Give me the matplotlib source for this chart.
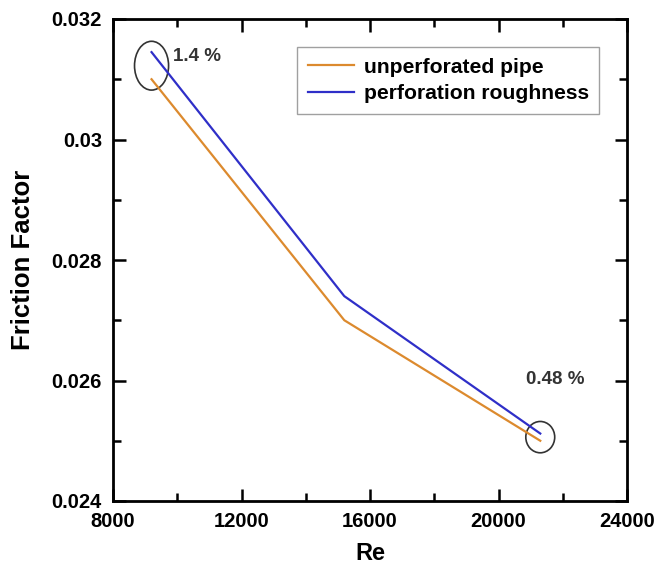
import matplotlib
matplotlib.use("Agg")
import matplotlib.pyplot as plt
from matplotlib.patches import Ellipse
from matplotlib.ticker import MultipleLocator, FuncFormatter

# data
re_vals = [9200, 15200, 21300]
f_unperf = [0.0310, 0.0270, 0.0250]
f_perf = [0.03145, 0.02740, 0.02512]
series_labels = ["unperforated pipe", "perforation roughness"]
notes = ["1.4 %", "0.48 %"]

plt.rcParams['font.family'] = ['Liberation Sans', 'DejaVu Sans']
plt.rcParams['font.weight'] = 'bold'

fig = plt.figure(figsize=(6.55, 5.67), dpi=100)
ax = fig.add_axes([113/655, 1 - 501/567, 514/655, 482/567])

ax.plot(re_vals, f_unperf, color='#dc8a2e', lw=1.6, label=series_labels[0])
ax.plot(re_vals, f_perf, color='#2f2fc8', lw=1.6, label=series_labels[1])

ax.set_xlim(8000, 24000)
ax.set_ylim(0.024, 0.032)
ax.xaxis.set_major_locator(MultipleLocator(4000))
ax.xaxis.set_minor_locator(MultipleLocator(2000))
ax.yaxis.set_major_locator(MultipleLocator(0.002))
ax.yaxis.set_minor_locator(MultipleLocator(0.001))
ax.yaxis.set_major_formatter(FuncFormatter(lambda v, p: ('%.3f' % v).rstrip('0')))

ax.tick_params(which='both', direction='in', top=True, right=True, width=1.8)
ax.tick_params(which='major', length=9, labelsize=14.5, pad=8)
ax.tick_params(axis='x', which='major', pad=8)
ax.tick_params(which='minor', length=6)
for s in ax.spines.values():
    s.set_linewidth(2)
for lab in ax.get_xticklabels() + ax.get_yticklabels():
    lab.set_fontweight('bold')

ax.set_xlabel('Re', fontsize=17, fontweight='bold', labelpad=8)
ax.set_ylabel('Friction Factor', fontsize=18.5, fontweight='bold', labelpad=12)

# circles around first and last points
for i, w, h in [(0, 1060, 0.00081), (-1, 900, 0.00052)]:
    cy = (f_unperf[i] + f_perf[i]) / 2
    ax.add_patch(Ellipse((re_vals[i], cy), w, h, fill=False, ec='#333333', lw=1.2))

ax.text(9870, 0.03137, notes[0], fontsize=13.5, fontweight='bold', va='center', color='#333333')
ax.text(21760, 0.02601, notes[1], fontsize=13.5, fontweight='bold', va='center', ha='center', color='#333333')

leg = ax.legend(loc='upper left', bbox_to_anchor=(184/514, 1 - 28/482), fontsize=15.2,
                frameon=True, fancybox=False, edgecolor='#888888', handlelength=2.2,
                handletextpad=0.45, borderpad=0.5, labelspacing=0.35, borderaxespad=0)
leg.get_frame().set_linewidth(1)
for t in leg.get_texts():
    t.set_fontweight('bold')

fig.savefig('out.png', dpi=100)
